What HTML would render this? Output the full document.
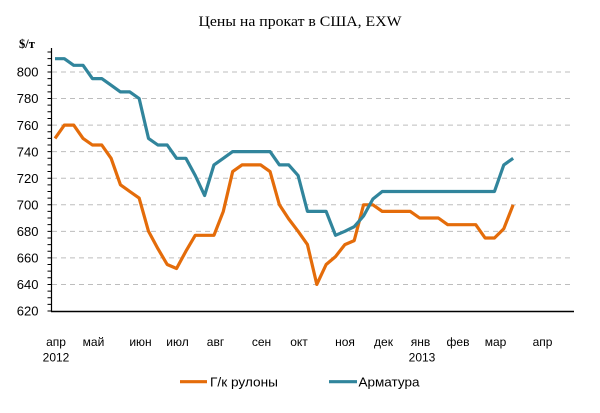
<!DOCTYPE html>
<html><head><meta charset="utf-8"><style>
html,body{margin:0;padding:0;background:#fff;}
svg{display:block;}
</style></head><body>
<svg width="600" height="413" viewBox="0 0 600 413" xmlns="http://www.w3.org/2000/svg">
<rect width="600" height="413" fill="#fff"/>
<text x="300" y="26" text-anchor="middle" font-family="Liberation Serif, serif" font-size="15" fill="#000" textLength="203" lengthAdjust="spacingAndGlyphs">Цены на прокат в США, EXW</text>
<text x="19" y="48" font-family="Liberation Serif, serif" font-size="12.5" font-weight="bold" fill="#000">$/т</text>
<g stroke="#bdbdbd" stroke-width="1" stroke-dasharray="5,4">
<line x1="52" x2="574" y1="284.44" y2="284.44"/>
<line x1="52" x2="574" y1="257.88" y2="257.88"/>
<line x1="52" x2="574" y1="231.32" y2="231.32"/>
<line x1="52" x2="574" y1="204.76" y2="204.76"/>
<line x1="52" x2="574" y1="178.2" y2="178.2"/>
<line x1="52" x2="574" y1="151.64" y2="151.64"/>
<line x1="52" x2="574" y1="125.08" y2="125.08"/>
<line x1="52" x2="574" y1="98.52" y2="98.52"/>
<line x1="52" x2="574" y1="71.96" y2="71.96"/>
</g>
<g font-family="Liberation Sans, sans-serif" font-size="13" fill="#000" text-anchor="end">
<text x="38.5" y="315.7">620</text>
<text x="38.5" y="289.1">640</text>
<text x="38.5" y="262.6">660</text>
<text x="38.5" y="236">680</text>
<text x="38.5" y="209.5">700</text>
<text x="38.5" y="182.9">720</text>
<text x="38.5" y="156.3">740</text>
<text x="38.5" y="129.8">760</text>
<text x="38.5" y="103.2">780</text>
<text x="38.5" y="76.7">800</text>
</g>
<path stroke="#000" stroke-width="1" fill="none" d="M47.5 311h4M47.5 304.36h4M47.5 297.72h4M47.5 291.08h4M47.5 284.44h4M47.5 277.8h4M47.5 271.16h4M47.5 264.52h4M47.5 257.88h4M47.5 251.24h4M47.5 244.6h4M47.5 237.96h4M47.5 231.32h4M47.5 224.68h4M47.5 218.04h4M47.5 211.4h4M47.5 204.76h4M47.5 198.12h4M47.5 191.48h4M47.5 184.84h4M47.5 178.2h4M47.5 171.56h4M47.5 164.92h4M47.5 158.28h4M47.5 151.64h4M47.5 145h4M47.5 138.36h4M47.5 131.72h4M47.5 125.08h4M47.5 118.44h4M47.5 111.8h4M47.5 105.16h4M47.5 98.52h4M47.5 91.88h4M47.5 85.24h4M47.5 78.6h4M47.5 71.96h4M47.5 65.32h4M47.5 58.68h4M47.5 52.04h4"/>
<line x1="51.5" y1="48" x2="51.5" y2="311.5" stroke="#000" stroke-width="1.2"/>
<line x1="51" y1="311.5" x2="574" y2="311.5" stroke="#000" stroke-width="1.5"/>
<g font-family="Liberation Sans, sans-serif" font-size="12" fill="#000" text-anchor="middle">
<text x="56" y="346">апр</text>
<text x="93.5" y="346">май</text>
<text x="140.5" y="346">июн</text>
<text x="177.5" y="346">июл</text>
<text x="215.5" y="346">авг</text>
<text x="261.5" y="346">сен</text>
<text x="299" y="346">окт</text>
<text x="345" y="346">ноя</text>
<text x="383.5" y="346">дек</text>
<text x="420.5" y="346">янв</text>
<text x="458" y="346">фев</text>
<text x="495.5" y="346">мар</text>
<text x="542.5" y="346">апр</text>
<text x="56" y="361.7">2012</text>
<text x="422" y="361.7">2013</text>
</g>
<polyline fill="none" stroke="#E46C0A" stroke-width="3.2" stroke-linejoin="round" points="55,138.4 64.35,125.1 73.7,125.1 83.05,138.4 92.4,145 101.75,145 111.1,158.3 120.45,184.8 129.8,191.5 139.15,198.1 148.5,231.3 157.85,248.6 167.2,264.5 176.55,268.5 185.9,251.2 195.25,235.3 204.6,235.3 213.95,235.3 223.3,211.4 232.65,171.6 242,164.9 251.35,164.9 260.7,164.9 270.05,171.6 279.4,204.8 288.75,219 298.1,231.3 307.45,244.6 316.8,284.4 326.15,264.5 335.5,256.6 344.85,244.6 354.2,240.6 363.55,204.8 372.9,204.8 382.25,211.4 391.6,211.4 400.95,211.4 410.3,211.4 419.65,218 429,218 438.35,218 447.7,224.7 457.05,224.7 466.4,224.7 475.75,224.7 485.1,238 494.45,238 503.8,228.7 513.15,204.8"/>
<polyline fill="none" stroke="#31859C" stroke-width="3.2" stroke-linejoin="round" points="55,58.7 64.35,58.7 73.7,65.3 83.05,65.3 92.4,78.6 101.75,78.6 111.1,85.2 120.45,91.9 129.8,91.9 139.15,98.5 148.5,138.4 157.85,145 167.2,145 176.55,158.3 185.9,158.3 195.25,175.5 204.6,195.5 213.95,164.9 223.3,158.3 232.65,151.6 242,151.6 251.35,151.6 260.7,151.6 270.05,151.6 279.4,164.9 288.75,164.9 298.1,175.5 307.45,211.4 316.8,211.4 326.15,211.4 335.5,235.3 344.85,231.3 354.2,226.7 363.55,216 372.9,199 382.25,191.5 391.6,191.5 400.95,191.5 410.3,191.5 419.65,191.5 429,191.5 438.35,191.5 447.7,191.5 457.05,191.5 466.4,191.5 475.75,191.5 485.1,191.5 494.45,191.5 503.8,164.9 513.15,158.3"/>
<line x1="180" y1="381.7" x2="207" y2="381.7" stroke="#E46C0A" stroke-width="3.2"/>
<text x="210" y="386.5" font-family="Liberation Sans, sans-serif" font-size="13" fill="#000" textLength="68" lengthAdjust="spacingAndGlyphs">Г/к рулоны</text>
<line x1="329" y1="381.7" x2="357" y2="381.7" stroke="#31859C" stroke-width="3.2"/>
<text x="358.5" y="386.5" font-family="Liberation Sans, sans-serif" font-size="13" fill="#000" textLength="61" lengthAdjust="spacingAndGlyphs">Арматура</text>
</svg>
</body></html>
